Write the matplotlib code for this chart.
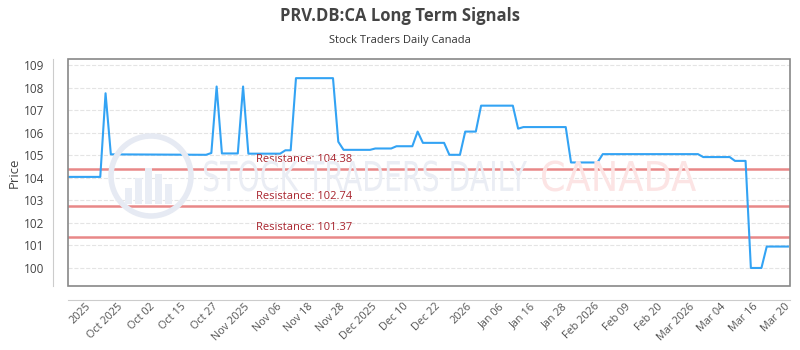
import numpy as np
import matplotlib
matplotlib.use("Agg")
import matplotlib.pyplot as plt
from matplotlib.patches import Rectangle, Circle, PathPatch
from matplotlib.textpath import TextPath
from matplotlib.font_manager import FontProperties
from matplotlib.transforms import Affine2D

# line vertices: trading-day index and price
day_idx = [0, 6, 7, 8, 26, 27, 28, 29, 32, 33, 34, 40, 41, 42, 43, 50, 51, 52,
           57, 58, 61, 62, 65, 66, 67, 71, 72, 74, 75, 77, 78, 84, 85, 86, 94,
           95, 100, 101, 119, 120, 125, 126, 128, 129, 131, 132, 136]
prices = [104.04, 104.04, 107.75, 105.04, 105.02, 105.1, 108.05, 105.08, 105.08,
          108.05, 105.07, 105.07, 105.22, 105.22, 108.42, 108.42, 105.6, 105.24,
          105.24, 105.3, 105.3, 105.4, 105.4, 106.05, 105.55, 105.55, 105.02,
          105.02, 106.05, 106.05, 107.2, 107.2, 106.18, 106.25, 106.25, 104.68,
          104.68, 105.05, 105.05, 104.92, 104.92, 104.75, 104.75, 100.0, 100.0,
          100.95, 100.95]

resistance = [104.38, 102.74, 101.37]

tick_labels = ["2025", "Oct 2025", "Oct 02", "Oct 15", "Oct 27", "Nov 2025",
               "Nov 06", "Nov 18", "Nov 28", "Dec 2025", "Dec 10", "Dec 22",
               "2026", "Jan 06", "Jan 16", "Jan 28", "Feb 2026", "Feb 09",
               "Feb 20", "Mar 2026", "Mar 04", "Mar 16", "Mar 20"]
tick_pos = [4 + 6 * k for k in range(len(tick_labels))]

plt.rcParams['font.family'] = ['Open Sans', 'DejaVu Sans']

fig = plt.figure(figsize=(8, 3.5), dpi=100)
ax = fig.add_axes([68 / 800, 64 / 350, 722 / 800, 227 / 350])


def squeezed_text(s, x0, x1, yc, h, color):
    # draw text as a path squeezed into a box (inches)
    tp = TextPath((0, 0), s, size=10, prop=FontProperties(family='DejaVu Sans'))
    ext = tp.get_extents()
    sx = (x1 - x0) / ext.width
    sy = h / ext.height
    tr = Affine2D().translate(-ext.x0, -ext.y0).scale(sx, sy).translate(x0, yc - h / 2)
    fig.patches.append(PathPatch(tp, transform=tr + fig.dpi_scale_trans,
                                 fc=color, ec='none', zorder=0))


# watermark
wm_kw = dict(transform=fig.dpi_scale_trans, zorder=0)
fig.patches.append(Circle((1.51, 1.74), 0.40, fill=False, ec='#e6eaf3', lw=4, **wm_kw))
for bx, bh in [(1.25, 0.16), (1.35, 0.26), (1.45, 0.36), (1.55, 0.30), (1.65, 0.20)]:
    fig.patches.append(Rectangle((bx, 1.46), 0.07, bh, fc='#e9edf5', ec='none', **wm_kw))
squeezed_text("STOCK TRADERS DAILY", 2.04, 5.27, 1.74, 0.31, '#eaedf4')
squeezed_text("CANADA", 5.42, 6.96, 1.74, 0.31, '#fce4e4')
ax.patch.set_alpha(0)

ax.plot(day_idx, prices, color='#33a3f4', lw=1.5, zorder=3)

for r in resistance:
    ax.axhline(r, color='#e57373', lw=1.8, alpha=0.85, zorder=2)
    ax.text(35.5, r + 0.18, f"Resistance: {r:.2f}", color='#a8232d',
            fontsize=8, va='bottom', ha='left', zorder=4)

ax.set_xlim(-0.1, 136.4)
ax.set_ylim(99.2, 109.27)
ax.set_yticks(range(100, 110))
ax.set_xticks(tick_pos)
ax.set_xticklabels([])
ax.tick_params(axis='y', length=0, pad=6, labelsize=8.5, labelcolor='#444444')
ax.tick_params(axis='x', length=0)
# rotated date labels placed under the offset bottom axis line
xlab_tr = ax.get_xaxis_transform()
for p, lab in zip(tick_pos, tick_labels):
    ax.text(p, 0, lab, transform=xlab_tr + Affine2D().translate(0, -19),
            rotation=45, ha='right', va='center', rotation_mode='anchor',
            fontsize=7.8, color='#555555', clip_on=False)
ax.grid(axis='y', color='#e4e4e4', ls='--', lw=0.8)
ax.set_axisbelow(True)

for s in ['top', 'right']:
    ax.spines[s].set_visible(False)
ax.spines['left'].set_position(('outward', 11))
ax.spines['bottom'].set_position(('outward', 10))
ax.spines['left'].set_color('#cccccc')
ax.spines['bottom'].set_color('#cccccc')
ax.add_patch(Rectangle((0, 0), 1, 1, transform=ax.transAxes, fill=False,
                       ec='#888888', lw=1.2, clip_on=False, zorder=5))

ax.set_ylabel("Price", fontsize=9.5, color='#444444', labelpad=2)

fig.text(0.5, 0.955, "PRV.DB:CA Long Term Signals", ha='center', va='center',
         fontsize=12, fontweight='bold', color='#444444')
fig.text(0.5, 0.885, "Stock Traders Daily Canada", ha='center', va='center',
         fontsize=8, color='#333333')

fig.savefig("out.png", dpi=100)
